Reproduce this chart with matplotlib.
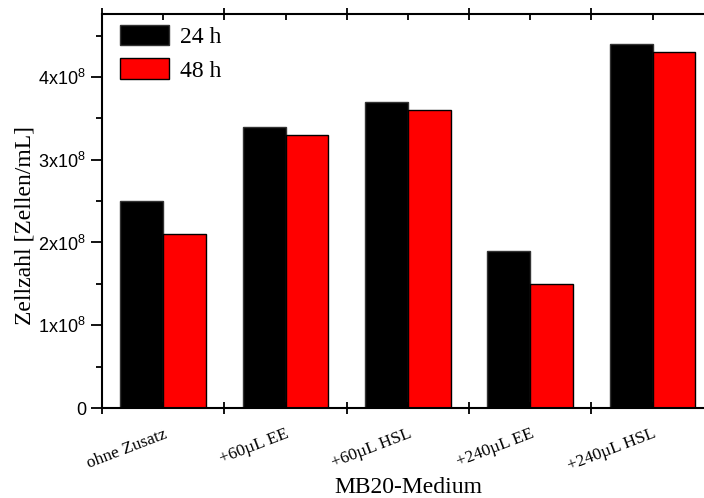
import numpy as np
import matplotlib
matplotlib.use("Agg")
import matplotlib.pyplot as plt
from matplotlib.ticker import MultipleLocator, FixedLocator

# ─── data ──────────────────────────────────────────────────────
categories = ["ohne Zusatz", "+60µL EE", "+60µL HSL", "+240µL EE", "+240µL HSL"]
vals_24h   = [2.5e8, 3.4e8, 3.7e8, 1.9e8, 4.4e8]
vals_48h   = [2.1e8, 3.3e8, 3.6e8, 1.5e8, 4.3e8]
ytick_vals = [0, 1e8, 2e8, 3e8, 4e8]
ytick_lbls = ["0", r"1x10$^{\mathregular{8}}$", r"2x10$^{\mathregular{8}}$",
              r"3x10$^{\mathregular{8}}$", r"4x10$^{\mathregular{8}}$"]

SERIF = "Liberation Serif"
SANS  = "Liberation Sans"

fig = plt.figure(figsize=(7.04, 4.98), dpi=100)
ax  = fig.add_axes([0.1449, 0.1807, 0.869, 0.7912])

x  = np.arange(1, len(categories) + 1)
bw = 0.35
ax.bar(x - bw / 2, vals_24h, bw, color="black", edgecolor="#333333",
       linewidth=1.0, label="24 h")
ax.bar(x + bw / 2, vals_48h, bw, color="#ff0000", edgecolor="black",
       linewidth=1.0, label="48 h")

ax.set_xlim(0.5, 5.5)
ax.set_ylim(0, 4.76e8)

# y axis
ax.yaxis.set_major_locator(FixedLocator(ytick_vals))
ax.set_yticklabels(ytick_lbls, family=SANS, fontsize=13)
ax.yaxis.set_minor_locator(MultipleLocator(0.5e8))
ax.tick_params(axis="y", which="major", direction="out", length=8, width=1.3)
ax.tick_params(axis="y", which="minor", direction="out", length=4, width=1.3)

# x axis: major ticks between groups, minor at group centres
ax.xaxis.set_major_locator(FixedLocator(np.arange(0.5, 6.0, 1.0)))
ax.xaxis.set_minor_locator(FixedLocator(x))
ax.xaxis.set_major_formatter(plt.NullFormatter())
ax.set_xticks(x, minor=True)
ax.set_xticklabels(categories, minor=True, family=SERIF, fontsize=12.5,
                   rotation=21, ha="right", va="top", rotation_mode="anchor")
ax.tick_params(axis="x", which="major", direction="inout", length=9,
               width=1.3, top=True)
ax.tick_params(axis="x", which="minor", direction="in", length=4,
               width=1.3, top=True, pad=13)

for side in ["left", "bottom", "top"]:
    ax.spines[side].set_linewidth(1.5)
ax.spines["right"].set_visible(False)

ax.set_ylabel("Zellzahl [Zellen/mL]", family=SERIF, fontsize=17)
ax.yaxis.set_label_coords(-0.108, 0.462)
ax.set_xlabel("MB20-Medium", family=SERIF, fontsize=17, labelpad=2)

ax.legend(loc="upper left", frameon=False, prop={"family": SERIF, "size": 17},
          handlelength=2.05, handleheight=0.95, borderaxespad=0.0,
          borderpad=0.3, labelspacing=0.42, handletextpad=0.5,
          bbox_to_anchor=(0.018, 0.99))

fig.savefig("out.png", dpi=100)
